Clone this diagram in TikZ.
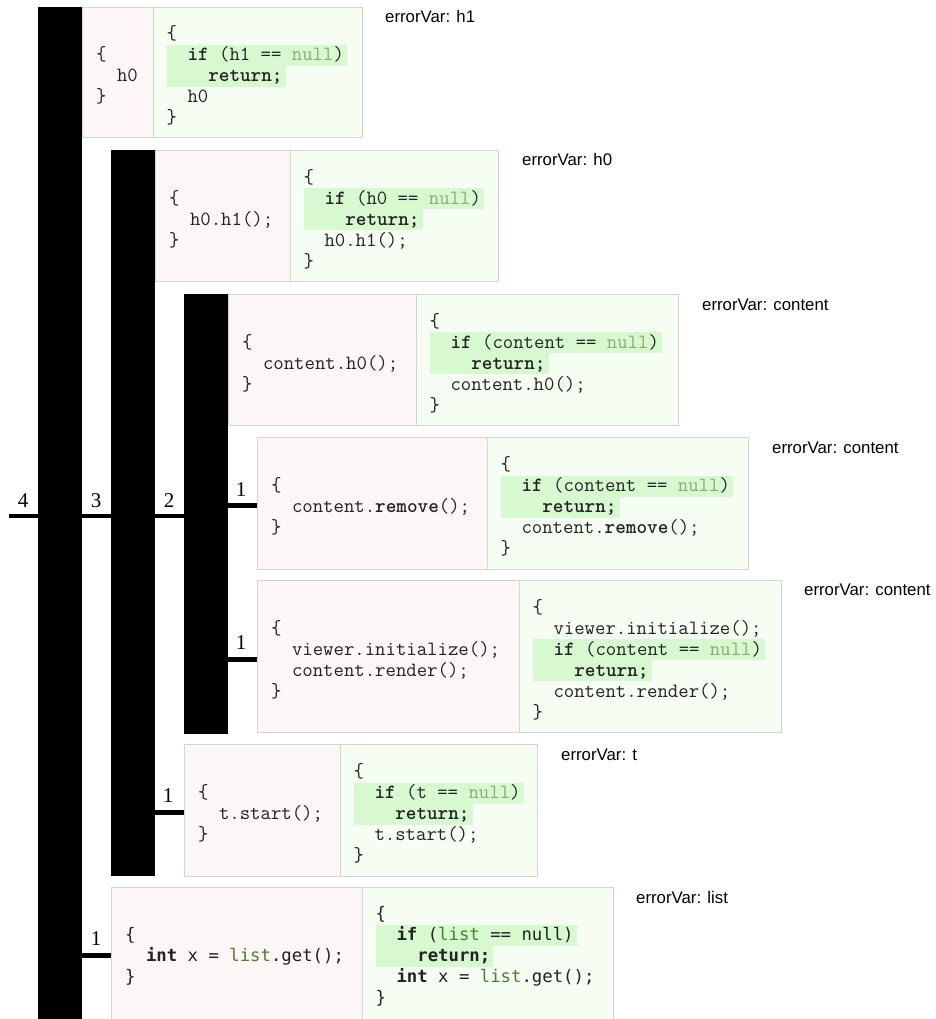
\documentclass[tikz,border=0pt]{standalone}
\usepackage{fontspec}
\setmainfont{Liberation Sans}
\newfontfamily\codeB{DejaVu Sans Mono}
\newfontfamily\numfont{Liberation Serif}
\usetikzlibrary{calc}
\definecolor{pinkbg}{HTML}{FDF6F6}
\definecolor{greenbg}{HTML}{F6FDF3}
\definecolor{bordergrey}{HTML}{D4D4D4}
\definecolor{hlg}{HTML}{D7F9D0}
\definecolor{nullc}{HTML}{88AD72}
\definecolor{listc}{HTML}{4E7D2B}
\definecolor{codec}{HTML}{222222}
\newcommand\hlbox[1]{{\setlength\fboxsep{0pt}\colorbox{hlg}{\rule[-5pt]{0pt}{20.9pt}#1\hspace*{3pt}}}}
\newcommand\cind{\phantom{xx}}
\newcommand\nl[1]{\textcolor{nullc}{#1}}
\newcommand\kw[1]{\textbf{#1}}
\newcommand\lst[1]{\textcolor{listc}{#1}}
\tikzset{
  pinkpanel/.style={draw=bordergrey, fill=pinkbg, line width=1pt, inner sep=0pt, anchor=north west},
  greenpanel/.style={draw=bordergrey, fill=greenbg, line width=1pt, inner sep=0pt, anchor=north west},
  bar/.style={fill=black, inner sep=0pt, anchor=north west},
  code/.style={inner sep=0pt, align=left, anchor=west, text=codec, yshift=-3pt, font=\fontsize{20.2}{21}\selectfont\ttfamily},
  codeb/.style={inner sep=0pt, align=left, anchor=west, text=codec, yshift=-3pt, font=\fontsize{17.3}{21}\selectfont\codeB},
  lbl/.style={inner sep=0pt, anchor=base west, font=\fontsize{16.8}{19}\selectfont},
  num/.style={inner sep=0pt, anchor=base, font=\fontsize{21}{24}\selectfont\numfont},
  tickA/.style={line width=3.5pt},
  tickB/.style={line width=5pt},
}
\begin{document}
\begin{tikzpicture}[x=1pt,y=-1pt]
\useasboundingbox[fill=white] (0,0) rectangle (935,1019);
% bars
\node[bar, minimum width=44, minimum height=1012] (b4) at (38,7) {};
\node[bar, minimum width=44, minimum height=726] (b3) at (111,150) {};
\node[bar, minimum width=44, minimum height=440] (b2) at (184,294) {};
% panels
\node[pinkpanel, minimum width=71, minimum height=130] (p1p) at (82,7) {};
\node[greenpanel, minimum width=209, minimum height=130] (p1g) at (153,7) {};
\node[pinkpanel, minimum width=135, minimum height=131] (p2p) at (155,150) {};
\node[greenpanel, minimum width=208, minimum height=131] (p2g) at (290,150) {};
\node[pinkpanel, minimum width=188, minimum height=131] (p3p) at (228,294) {};
\node[greenpanel, minimum width=262, minimum height=131] (p3g) at (416,294) {};
\node[pinkpanel, minimum width=230, minimum height=132] (p4p) at (257,437) {};
\node[greenpanel, minimum width=261, minimum height=132] (p4g) at (487,437) {};
\node[pinkpanel, minimum width=262, minimum height=152] (p5p) at (257,580) {};
\node[greenpanel, minimum width=262, minimum height=152] (p5g) at (519,580) {};
\node[pinkpanel, minimum width=156, minimum height=132] (p6p) at (184,744) {};
\node[greenpanel, minimum width=197, minimum height=132] (p6g) at (340,744) {};
\node[pinkpanel, minimum width=251, minimum height=132] (p7p) at (111,887) {};
\node[greenpanel, minimum width=251, minimum height=132] (p7g) at (362,887) {};
% code texts
\node[code] (p1pt) at ([xshift=14pt]p1p.west) {\{\\\cind h0\\\}};
\node[code] (p1gt) at ([xshift=13.5pt]p1g.west) {\{\\\hlbox{\cind\kw{if} (h1 == \nl{null})}\\\hlbox{\cind\cind\kw{return;}}\\\cind h0\\\}};
\node[code] (p2pt) at ([xshift=14pt]p2p.west) {\{\\\cind h0.h1();\\\}};
\node[code] (p2gt) at ([xshift=13.5pt]p2g.west) {\{\\\hlbox{\cind\kw{if} (h0 == \nl{null})}\\\hlbox{\cind\cind\kw{return;}}\\\cind h0.h1();\\\}};
\node[code] (p3pt) at ([xshift=14pt]p3p.west) {\{\\\cind content.h0();\\\}};
\node[code] (p3gt) at ([xshift=13.5pt]p3g.west) {\{\\\hlbox{\cind\kw{if} (content == \nl{null})}\\\hlbox{\cind\cind\kw{return;}}\\\cind content.h0();\\\}};
\node[code] (p4pt) at ([xshift=14pt]p4p.west) {\{\\\cind content.\kw{remove}();\\\}};
\node[code] (p4gt) at ([xshift=13.5pt]p4g.west) {\{\\\hlbox{\cind\kw{if} (content == \nl{null})}\\\hlbox{\cind\cind\kw{return;}}\\\cind content.\kw{remove}();\\\}};
\node[code] (p5pt) at ([xshift=14pt]p5p.west) {\{\\\cind viewer.initialize();\\\cind content.render();\\\}};
\node[code] (p5gt) at ([xshift=13.5pt]p5g.west) {\{\\\cind viewer.initialize();\\\hlbox{\cind\kw{if} (content == \nl{null})}\\\hlbox{\cind\cind\kw{return;}}\\\cind content.render();\\\}};
\node[code] (p6pt) at ([xshift=14pt]p6p.west) {\{\\\cind t.start();\\\}};
\node[code] (p6gt) at ([xshift=13.5pt]p6g.west) {\{\\\hlbox{\cind\kw{if} (t == \nl{null})}\\\hlbox{\cind\cind\kw{return;}}\\\cind t.start();\\\}};
\node[codeb] (p7pt) at ([xshift=14pt]p7p.west) {\{\\\cind\kw{int} x = \lst{list}.get();\\\}};
\node[codeb] (p7gt) at ([xshift=13.5pt]p7g.west) {\{\\\hlbox{\cind\kw{if} (\lst{list} == null)}\\\hlbox{\cind\cind\kw{return;}}\\\cind\kw{int} x = \lst{list}.get();\\\}};
% labels
\node[lbl] (l1) at (385,23) {errorVar: h1};
\node[lbl] (l2) at (522,166) {errorVar: h0};
\node[lbl] (l3) at (702,310) {errorVar: content};
\node[lbl] (l4) at (772,453) {errorVar: content};
\node[lbl] (l5) at (804,595) {errorVar: content};
\node[lbl] (l6) at (561,760) {errorVar: t};
\node[lbl] (l7) at (636,903) {errorVar: list};
% ticks
\coordinate (t4) at (9,516);
\coordinate (c1a) at (257,505.5);
\coordinate (c1b) at (257,659);
\coordinate (c1c) at (184,812);
\coordinate (c1d) at (111,955);
\draw[tickA] (t4) -- (t4 -| b4.west);
\draw[tickA] (t4 -| b4.east) -- (t4 -| b3.west);
\draw[tickA] (t4 -| b3.east) -- (t4 -| b2.west);
\draw[tickB] (c1a -| b2.east) -- (c1a);
\draw[tickB] (c1b -| b2.east) -- (c1b);
\draw[tickB] (c1c -| b3.east) -- (c1c);
\draw[tickB] (c1d -| b4.east) -- (c1d);
% numbers
\node[num] (n4) at (23,507) {4};
\node[num] (n3) at (96,507) {3};
\node[num] (n2) at (169,507) {2};
\node[num] (n1a) at (241,496) {1};
\node[num] (n1b) at (241,649.5) {1};
\node[num] (n1c) at (168,802.5) {1};
\node[num] (n1d) at (96,945.5) {1};
\end{tikzpicture}
\end{document}
